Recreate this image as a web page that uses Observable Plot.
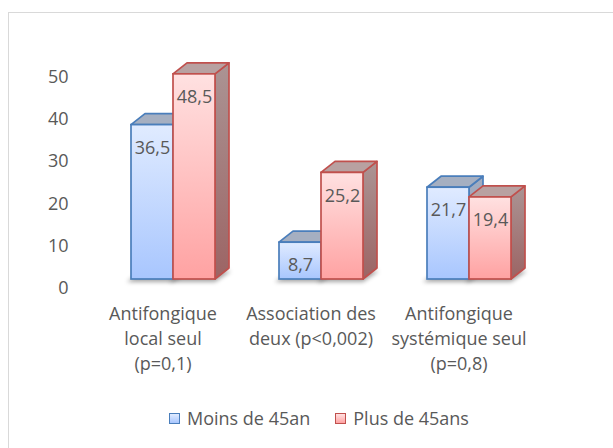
<!DOCTYPE html>
<html><head><meta charset="utf-8">
<script src="https://cdn.jsdelivr.net/npm/d3@7"></script>
<script src="https://cdn.jsdelivr.net/npm/@observablehq/plot@0.6"></script>
<style>
body{margin:0;background:#fff;}
#wrap{position:relative;width:613px;height:448px;overflow:hidden;font-family:"Open Sans",sans-serif;color:#595959;background:#fff;}
#border{position:absolute;left:8px;top:12px;width:700px;height:600px;border:1px solid #d9d9d9;box-sizing:border-box;}
#chart{position:absolute;left:0;top:0;}
#legend{position:absolute;left:169px;top:406px;display:flex;align-items:center;font-size:18px;white-space:nowrap;}
.item{display:flex;align-items:center;margin-right:25px;}
.sw{width:11px;height:11px;margin-right:7px;box-sizing:border-box;}
</style></head>
<body>
<div id="wrap">
  <div id="border"></div>
  <div id="chart"></div>
  <div id="legend"></div>
</div>
<script>
const categories = ["Antifongique\nlocal seul\n(p=0,1)", "Association des\ndeux (p<0,002)", "Antifongique\nsystémique seul\n(p=0,8)"];
const series = ["Moins de 45an", "Plus de 45ans"];
const moins = [36.5, 8.7, 21.7];
const plus = [48.5, 25.2, 19.4];
const yTicks = [0, 10, 20, 30, 40, 50];

const data = [];
categories.forEach((c, i) => {
  data.push({cat: c, series: series[0], value: moins[i]});
  data.push({cat: c, series: series[1], value: plus[i]});
});

const DX = 14, DY = -11;
const styles = {
  [series[0]]: {front: "url(#gBlueFront)", side: "url(#gBlueSide)", top: "#a5afc1", stroke: "#4a7ebb", sw1: "#e0ebff", sw2: "#a8c6fe"},
  [series[1]]: {front: "url(#gRedFront)", side: "url(#gRedSide)", top: "#b8a1a1", stroke: "#c0504d", sw1: "#ffe1e1", sw2: "#ffa2a2"}
};

function box3d(index, scales, values, dims, ctx, next) {
  const base = next(index, scales, values, dims, ctx);
  const rects = Array.from(base.querySelectorAll("rect"));
  const g = d3.create("svg:g");
  const boxes = rects.map((r, k) => ({
    s: styles[data[index[k]].series],
    x: +r.getAttribute("x"), y: +r.getAttribute("y"),
    w: +r.getAttribute("width"), h: +r.getAttribute("height")
  }));
  boxes.forEach(b => {
    const yb = b.y + b.h, x = b.x - 4, y0 = yb + 3;
    g.append("path")
      .attr("d", `M${x},${y0}L${x + b.w + 4},${y0}L${x + b.w + DX + 6},${y0 + DY}L${x + DX},${y0 + DY}Z`)
      .attr("fill", "#000").attr("fill-opacity", 0.35).attr("filter", "url(#blur)");
  });
  boxes.forEach(b => {
    const {x, y, w, h, s} = b, yb = y + h;
    g.append("path")
      .attr("d", `M${x + w},${y}L${x + w + DX},${y + DY}L${x + w + DX},${yb + DY}L${x + w},${yb}Z`)
      .attr("fill", s.side).attr("stroke", s.stroke).attr("stroke-width", 1.7).attr("stroke-linejoin", "round");
    g.append("path")
      .attr("d", `M${x},${y}L${x + DX},${y + DY}L${x + w + DX},${y + DY}L${x + w},${y}Z`)
      .attr("fill", s.top).attr("stroke", s.stroke).attr("stroke-width", 1.7).attr("stroke-linejoin", "round");
    g.append("rect").attr("x", x).attr("y", y).attr("width", w).attr("height", h)
      .attr("fill", s.front).attr("stroke", s.stroke).attr("stroke-width", 1.7);
  });
  return g.node();
}

const fmt = v => v.toFixed(1).replace(".", ",");

const plot = Plot.plot({
  width: 613, height: 395,
  marginLeft: 98, marginRight: 70, marginTop: 67.5, marginBottom: 116,
  style: {fontFamily: '"Open Sans", sans-serif', fontSize: "18px", color: "#595959", background: "transparent", overflow: "visible"},
  fx: {domain: categories, paddingInner: 0.4276, paddingOuter: 0.2138},
  x: {domain: series, padding: 0, axis: null},
  y: {domain: [0, 50]},
  marks: [
    Plot.axisY({ticks: yTicks, tickSize: 0, tickPadding: 62, dy: 9, label: null, fontSize: 18, fill: "#595959"}),
    Plot.axisFx({anchor: "bottom", tickSize: 0, tickPadding: 23, dx: -10, lineHeight: 1.38, label: null, fontSize: 18, fill: "#595959"}),
    Plot.barY(data, {fx: "cat", x: "series", y: "value", render: box3d}),
    Plot.text(data, {fx: "cat", x: "series", y: "value", text: d => fmt(d.value), dy: 23, fill: "#595959", fontSize: 18})
  ]
});

const svg = d3.select(plot);
const defs = svg.insert("defs", ":first-child");
function grad(id, c0, c1) {
  const lg = defs.append("linearGradient").attr("id", id).attr("x1", 0).attr("y1", 0).attr("x2", 0).attr("y2", 1);
  lg.append("stop").attr("offset", 0).attr("stop-color", c0);
  lg.append("stop").attr("offset", 1).attr("stop-color", c1);
}
grad("gBlueFront", "#e0ebff", "#a8c6fe");
grad("gRedFront", "#ffe1e1", "#ffa2a2");
grad("gBlueSide", "#a3adc0", "#8598b9");
grad("gRedSide", "#ab9494", "#9c6464");
defs.append("filter").attr("id", "blur").attr("x", "-50%").attr("y", "-50%").attr("width", "200%").attr("height", "200%")
  .append("feGaussianBlur").attr("stdDeviation", 2);

document.getElementById("chart").appendChild(plot);

const legend = d3.select("#legend");
series.forEach(s => {
  const it = legend.append("div").attr("class", "item");
  it.append("div").attr("class", "sw")
    .style("border", `1.5px solid ${styles[s].stroke}`)
    .style("background", `linear-gradient(${styles[s].sw1}, ${styles[s].sw2})`);
  it.append("span").text(s);
});
</script>
</body></html>
